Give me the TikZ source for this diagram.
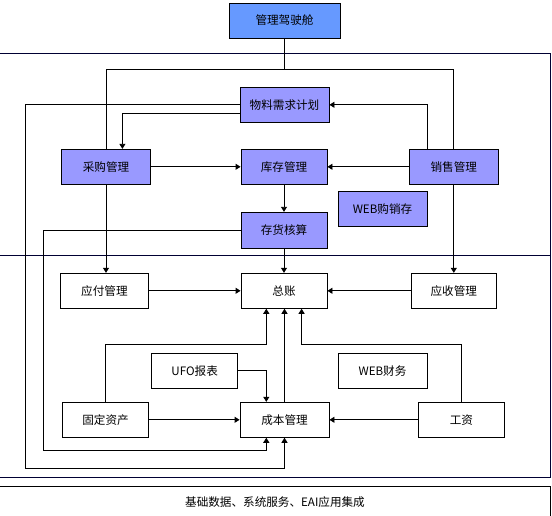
\documentclass[tikz,border=0pt]{standalone}
\usepackage{fontspec}
\newfontfamily\cjk{Noto Sans CJK SC}
\usetikzlibrary{arrows.meta}
\definecolor{boxblue}{HTML}{6699FF}
\definecolor{boxpurple}{HTML}{9999FF}
\definecolor{framenavy}{HTML}{000033}
\begin{document}
\begin{tikzpicture}[x=1pt,y=-1pt,
  box/.style={draw=black, line width=0.9pt, minimum height=35pt, inner sep=0pt, font=\cjk\fontsize{11.6}{13}\selectfont},
  bbox/.style={box, fill=boxblue},
  pbox/.style={box, fill=boxpurple},
  wbox/.style={box, fill=white},
  conn/.style={line width=0.9pt, draw=black},
  arr/.style={conn, -{Triangle[length=5pt,width=6pt]}},
  frame/.style={line width=0.9pt, draw=framenavy}]
\useasboundingbox (0,0) rectangle (552,516);
% frame
\draw[frame] (0,53.3) -- (550.5,53.3) -- (550.5,477.3) -- (0,477.3);
\draw[frame] (0,255.3) -- (550.5,255.3);
\draw[line width=0.9pt] (0,486.5) -- (550.3,486.5) -- (550.3,520);
\node[font=\cjk\fontsize{11.6}{13}\selectfont] (base) at (275,502) {基础数据、系统服务、EAI应用集成};
% boxes
\node[bbox, minimum width=111pt] (cockpit) at (284.5,20.5) {管理驾驶舱};
\node[pbox, minimum width=89pt] (mrp) at (284.5,104.8) {物料需求计划};
\node[pbox, minimum width=89pt] (purchase) at (106,166.8) {采购管理};
\node[pbox, minimum width=86pt] (inventory) at (284,166.8) {库存管理};
\node[pbox, minimum width=89pt] (sales) at (453.8,166.8) {销售管理};
\node[pbox, minimum width=89pt] (webpsi) at (382.5,208.8) {WEB购销存};
\node[pbox, minimum width=86pt, minimum height=36pt] (invacct) at (284,230.3) {存货核算};
\node[wbox, minimum width=88pt] (ap) at (104.4,290.8) {应付管理};
\node[wbox, minimum width=86pt] (gl) at (284,290.8) {总账};
\node[wbox, minimum width=85pt] (ar) at (453.8,290.8) {应收管理};
\node[wbox, minimum width=86pt] (ufo) at (194.7,370.7) {UFO报表};
\node[wbox, minimum width=89pt] (webfin) at (382.5,370.7) {WEB财务};
\node[wbox, minimum width=86pt] (fa) at (105.5,419.8) {固定资产};
\node[wbox, minimum width=89pt] (cost) at (284.5,419.8) {成本管理};
\node[wbox, minimum width=86pt] (payroll) at (461.4,419.8) {工资};
% helper coordinates
\coordinate (ytop) at (0,69.3);
\coordinate (y113) at (0,113.3);
\coordinate (y344) at (0,344.3);
\coordinate (x122) at (122.4,0);
\coordinate (x266) at (266.3,0);
\coordinate (x301) at (301.6,0);
\coordinate (x427) at (427.2,0);
\coordinate (L1) at (25.4,468.3);
\coordinate (L2) at (43.4,450.3);
% upper connectors
\draw[conn] (cockpit.south) -- (cockpit.south |- ytop);
\draw[conn] (purchase.north) -- (purchase.north |- ytop) -- (sales.north |- ytop) -- (sales.north);
\draw[arr] (mrp.west) -| (L1) -| (cost.south);
\draw[arr] (mrp.west |- y113) -| (x122 |- purchase.north);
\draw[arr] (sales.north -| x427) |- (mrp.east);
\draw[arr] (purchase.east) -- (inventory.west);
\draw[arr] (sales.west) -- (inventory.east);
\draw[arr] (inventory.south) -- (invacct.north);
\draw[arr] (invacct.west) -| (L2) -| (x266 |- cost.south);
\draw[arr] (invacct.south) -- (gl.north);
\draw[arr] (purchase.south) -- (purchase.south |- ap.north);
\draw[arr] (sales.south) -- (sales.south |- ar.north);
% lower connectors
\draw[arr] (ap.east) -- (gl.west);
\draw[arr] (ar.west) -- (gl.east);
\draw[arr] (fa.north) -- (fa.north |- y344) -| (x266 |- gl.south);
\draw[arr] (cost.north) -- (cost.north |- gl.south);
\draw[arr] (payroll.north) -- (payroll.north |- y344) -| (x301 |- gl.south);
\draw[arr] (ufo.east) -| (x266 |- cost.north);
\draw[arr] (fa.east) -- (cost.west);
\draw[arr] (payroll.west) -- (cost.east);
\end{tikzpicture}
\end{document}
